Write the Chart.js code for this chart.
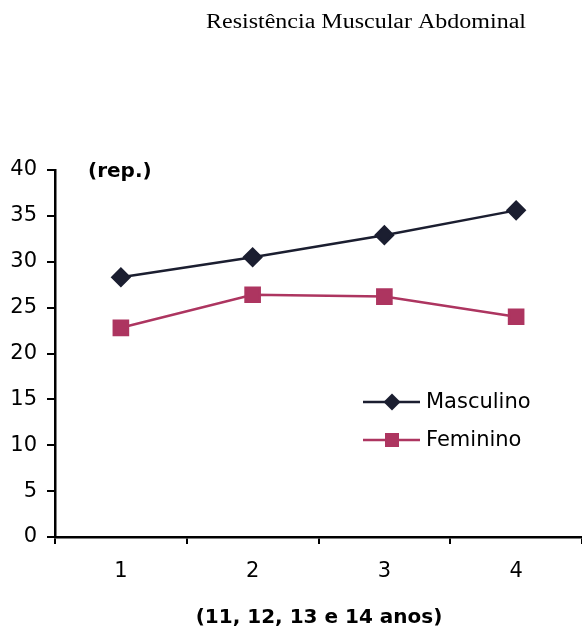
<!DOCTYPE html>
<html>
<head>
<meta charset="utf-8">
<script src="https://cdn.jsdelivr.net/npm/chart.js@4/dist/chart.umd.min.js"></script>
<style>
  body { margin: 0; background: #fff; }
  canvas { display: block; }
</style>
</head>
<body>
<canvas id="grafico" width="582" height="628"></canvas>
<script>
const categorias = ['1', '2', '3', '4'];
const masculino = [28.3, 30.5, 32.9, 35.6];
const feminino = [22.8, 26.4, 26.2, 24.0];
const yMin = 0, yMax = 40, yPasso = 5;

const corMasc = '#1b1e30';
const corFem = '#ad3560';
const fonteSans = '"DejaVu Sans", sans-serif';

// textos extra + legenda
const extras = {
  id: 'extras',
  afterDraw(chart) {
    const ctx = chart.ctx;
    ctx.save();
    ctx.fillStyle = '#000';

    // titulo (times, meio esticado)
    ctx.save();
    ctx.translate(366, 28);
    ctx.scale(1.2, 1);
    ctx.font = '20px "Liberation Serif", "Times New Roman", serif';
    ctx.textAlign = 'center';
    ctx.textBaseline = 'alphabetic';
    ctx.fillText('Resistência Muscular Abdominal', 0, 0);
    ctx.restore();

    ctx.font = 'bold 20px ' + fonteSans;
    ctx.textAlign = 'left';
    ctx.textBaseline = 'alphabetic';
    ctx.fillText('(rep.)', 88, 177);

    ctx.textAlign = 'center';
    ctx.fillText('(11, 12, 13 e 14 anos)', 319, 623);

    // legenda
    const itens = [
      { txt: 'Masculino', cor: corMasc, forma: 'diamante', y: 402 },
      { txt: 'Feminino', cor: corFem, forma: 'quadrado', y: 440 }
    ];
    itens.forEach(function (it) {
      ctx.strokeStyle = it.cor;
      ctx.lineWidth = 2.5;
      ctx.beginPath();
      ctx.moveTo(363, it.y);
      ctx.lineTo(420, it.y);
      ctx.stroke();
      ctx.fillStyle = it.cor;
      ctx.beginPath();
      if (it.forma == 'diamante') {
        ctx.moveTo(392 - 8.5, it.y);
        ctx.lineTo(392, it.y - 8.5);
        ctx.lineTo(392 + 8.5, it.y);
        ctx.lineTo(392, it.y + 8.5);
        ctx.closePath();
      } else {
        ctx.rect(392 - 7, it.y - 7, 14, 14);
      }
      ctx.fill();
      ctx.fillStyle = '#000';
      ctx.font = '21px ' + fonteSans;
      ctx.textAlign = 'left';
      ctx.textBaseline = 'middle';
      ctx.fillText(it.txt, 426, it.y + 1);
    });
    ctx.restore();
  }
};

new Chart(document.getElementById('grafico'), {
  type: 'line',
  data: {
    labels: categorias,
    datasets: [
      {
        label: 'Masculino',
        data: masculino,
        borderColor: corMasc,
        backgroundColor: corMasc,
        borderWidth: 2.5,
        pointStyle: 'rectRot',
        pointRadius: 8.5,
        pointHoverRadius: 8.5,
        tension: 0
      },
      {
        label: 'Feminino',
        data: feminino,
        borderColor: corFem,
        backgroundColor: corFem,
        borderWidth: 2.5,
        pointStyle: 'rect',
        pointRadius: 10,
        pointHoverRadius: 10,
        tension: 0
      }
    ]
  },
  options: {
    responsive: false,
    animation: false,
    layout: { autoPadding: false, padding: { top: 170, left: 0, right: 0, bottom: 0 } },
    plugins: {
      legend: { display: false },
      tooltip: { enabled: false },
      title: { display: false }
    },
    scales: {
      x: {
        offset: true,
        grid: { offset: true, drawOnChartArea: false, tickLength: 7, color: '#000', lineWidth: 2 },
        border: { color: '#000', width: 2.5 },
        ticks: { color: '#000', font: { family: fonteSans, size: 21 }, padding: 15 },
        afterFit(scale) { scale.height = 91; }
      },
      y: {
        min: yMin,
        max: yMax,
        ticks: { stepSize: yPasso, color: '#000', font: { family: fonteSans, size: 21 }, padding: 10 },
        grid: { drawOnChartArea: false, tickLength: 8, color: '#000', lineWidth: 2 },
        border: { color: '#000', width: 2.5 },
        afterFit(scale) { scale.width = 55; }
      }
    }
  },
  plugins: [extras]
});
</script>
</body>
</html>
